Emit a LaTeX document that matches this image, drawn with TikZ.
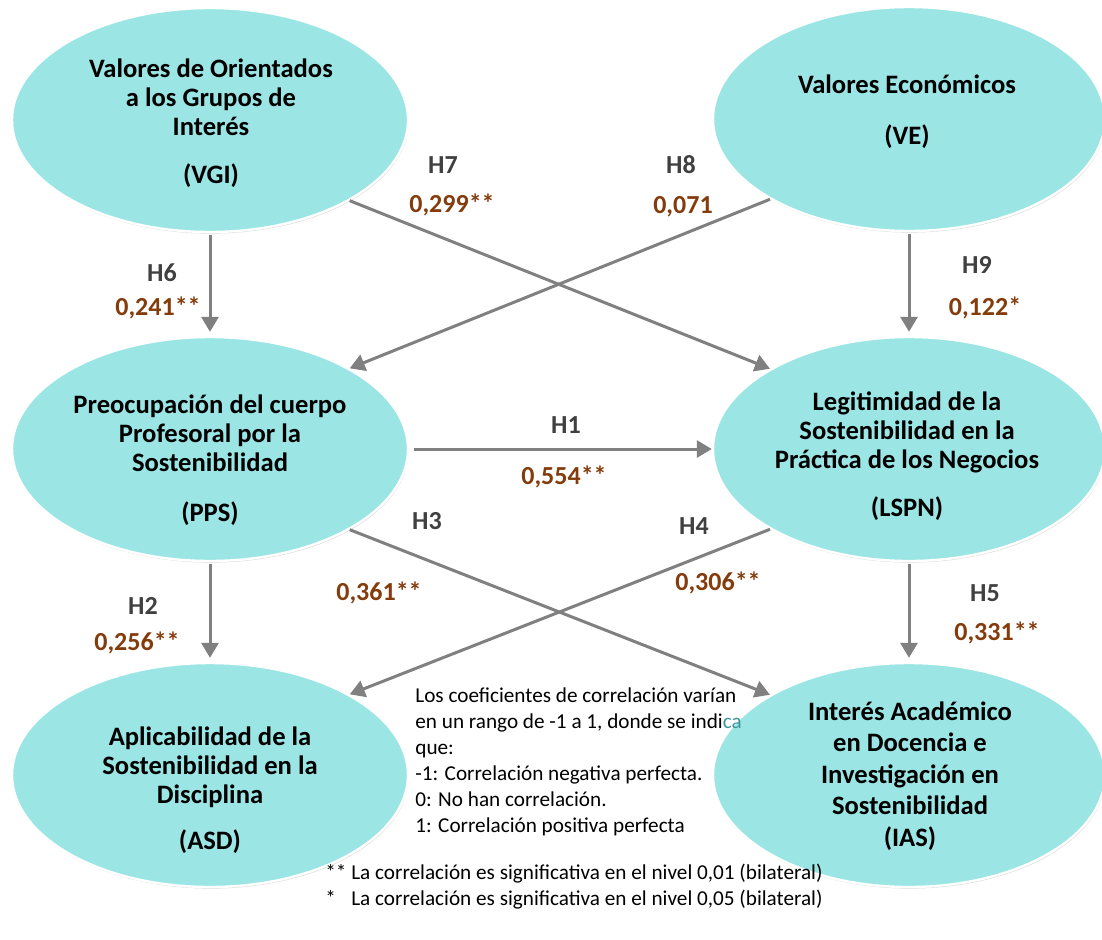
\documentclass[tikz,border=0pt]{standalone}
\usepackage{fontspec}
\setmainfont{Carlito}
\usetikzlibrary{arrows.meta,shapes.geometric,shadows}
\definecolor{cyanfill}{RGB}{155,229,229}
\definecolor{arrowgray}{RGB}{128,128,128}
\definecolor{hgray}{RGB}{64,64,64}
\definecolor{valbrown}{RGB}{132,60,12}
\definecolor{tealtext}{RGB}{60,150,155}
\begin{document}
\begin{tikzpicture}[x=0.5pt,y=-0.5pt,
  construct/.style={ellipse, fill=cyanfill, draw=white, line width=1.2pt, inner sep=0pt,
    minimum height=112pt,
    drop shadow={shadow xshift=0.4pt, shadow yshift=-0.8pt, opacity=0.15, fill=black}},
  leftcol/.style={construct, minimum width=198pt},
  rightcol/.style={construct, minimum width=196pt},
  ctext/.style={align=center, inner sep=0pt, font=\bfseries\fontsize{13.3}{14.6}\selectfont, text=black},
  hlab/.style={inner sep=0pt, font=\bfseries\fontsize{13}{15}\selectfont, text=hgray},
  vlab/.style={inner sep=0pt, font=\bfseries\fontsize{13}{15}\selectfont, text=valbrown},
  link/.style={draw=arrowgray, line width=1.5pt, -{Triangle[length=7.5pt,width=8.5pt]}},
  notetext/.style={align=left, inner sep=0pt, font=\fontsize{10.6}{13}\selectfont, text=black}
]
\useasboundingbox (0,0) rectangle (1102,939);

% constructs
\node[leftcol]  (VGI)  at (210,120) {};
\node[rightcol] (VE)   at (909,119) {};
\node[leftcol]  (PPS)  at (210,449) {};
\node[rightcol] (LSPN) at (909,449) {};
\node[leftcol]  (ASD)  at (210,775) {};
\node[rightcol] (IAS)  at (909,775) {};

% construct texts
\node[ctext] (tVGI)  at (211,123) {Valores de Orientados\\a los Grupos de\\Interés\\[9pt](VGI)};
\node[ctext] (tVE)   at (907,112) {Valores Económicos\\[11pt](VE)};
\node[ctext] (tPPS)  at (210,460) {Preocupación del cuerpo\\Profesoral por la\\Sostenibilidad\\[10.5pt](PPS)};
\node[ctext] (tLSPN) at (907,456) {Legitimidad de la\\Sostenibilidad en la\\Práctica de los Negocios\\[9pt](LSPN)};
\node[ctext] (tASD)  at (210,790) {Aplicabilidad de la\\Sostenibilidad en la\\Disciplina\\[8pt](ASD)};
\node[ctext, font=\bfseries\fontsize{13.3}{15.7}\selectfont] (tIAS) at (910,776) {Interés Académico\\en Docencia e\\Investigación en\\Sostenibilidad\\(IAS)};

% connectors
\draw[link, shorten <=1pt, shorten >=2pt] (VGI.south) -- (PPS.north);
\draw[link, shorten <=1pt, shorten >=2pt] (VE.south) -- (LSPN.north);
\draw[link, shorten <=1pt, shorten >=2pt] (PPS.south) -- (ASD.north);
\draw[link, shorten <=1pt, shorten >=2pt] (LSPN.south) -- (IAS.north);
\draw[link, shorten <=2.5pt] (PPS.east) -- (LSPN.west);
\draw[link] (VGI.-30) -- (LSPN.150);
\draw[link] (VE.210) -- (PPS.30);
\draw[link] (PPS.-30) -- (IAS.150);
\draw[link] (LSPN.210) -- (ASD.30);

% hypothesis labels
\node[hlab] (h7) at (443,165) {H7};
\node[vlab] (v7) at (452,205) {0,299**};
\node[hlab] (h8) at (681,165) {H8};
\node[vlab] (v8) at (683,207) {0,071};
\node[hlab] (h6) at (162,273) {H6};
\node[vlab] (v6) at (158,308) {0,241**};
\node[hlab] (h9) at (977,265) {H9};
\node[vlab] (v9) at (985,308) {0,122*};
\node[hlab] (h1) at (566,425) {H1};
\node[vlab] (v1) at (564,477) {0,554**};
\node[hlab] (h3) at (427,521) {H3};
\node[vlab] (v3) at (379,593) {0,361**};
\node[hlab] (h4) at (694,526) {H4};
\node[vlab] (v4) at (718,583) {0,306**};
\node[hlab] (h2) at (143,606) {H2};
\node[vlab] (v2) at (137,643) {0,256**};
\node[hlab] (h5) at (985,593) {H5};
\node[vlab] (v5) at (997,633) {0,331**};

% note
\node[notetext, anchor=west] (note) at (415,762) {Los coeficientes de correlación varían\\en un rango de -1 a 1, donde se indi\textcolor{tealtext}{ca}\\que:\\-1: Correlación negativa perfecta.\\0: No han correlación.\\1: Correlación positiva perfecta};

% footnote
\node[notetext, anchor=west] (foot) at (325,887) {** La correlación es significativa en el nivel 0,01 (bilateral)\\\rlap{*}\phantom{**} La correlación es significativa en el nivel 0,05 (bilateral)};
\end{tikzpicture}
\end{document}
